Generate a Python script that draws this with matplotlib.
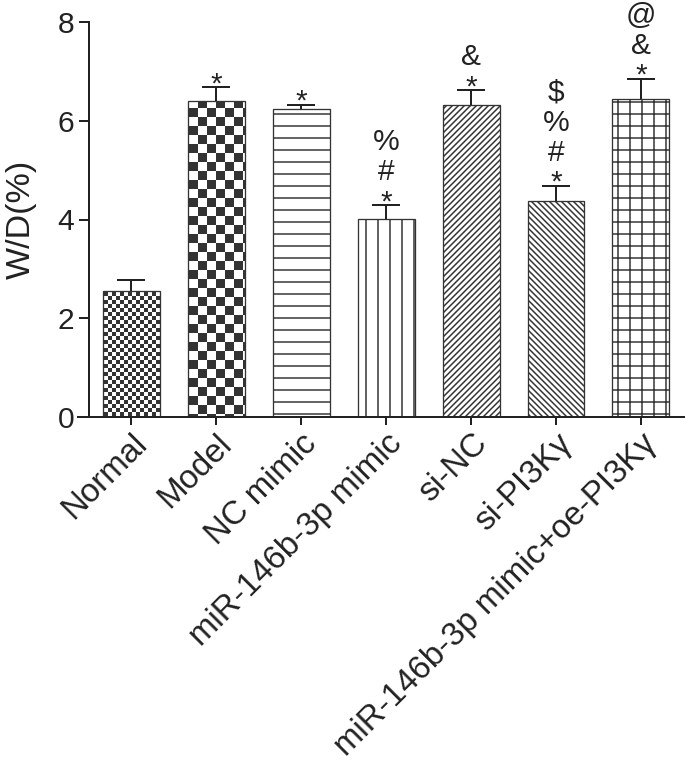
import warnings
import numpy as np
import matplotlib
matplotlib.use("Agg")
import matplotlib.pyplot as plt
import matplotlib.hatch as mhatch
from matplotlib.path import Path

warnings.filterwarnings("ignore")

groups = ["Normal", "Model", "NC mimic", "miR-146b-3p mimic", "si-NC",
          "si-PI3Kγ", "miR-146b-3p mimic+oe-PI3Kγ"]
wd_mean = [2.56, 6.40, 6.24, 4.02, 6.32, 4.38, 6.45]
wd_err = [0.21, 0.28, 0.08, 0.27, 0.30, 0.30, 0.40]
# significance marks, listed bottom to top
marks = [[], ["*"], ["*"], ["*", "#", "%"], ["*", "&"],
         ["*", "#", "%", "$"], ["*", "&", "@"]]
fills = ["f", "c", "-", "|", "////", "\\\\\\\\", "+"]

INK = "#222222"
HATCH_LW = 1.5


class CheckerHatch(mhatch.HatchPatternBase):
    """Filled checkerboard: 'c' = coarse, 'f' = fine."""

    def __init__(self, hatch, density):
        self.cells = 8 * hatch.count("c") + 18 * hatch.count("f")
        self.num_vertices = (self.cells ** 2 // 2) * 5

    def set_vertices_and_codes(self, vertices, codes):
        n = self.cells
        s = 1.0 / n
        pad = HATCH_LW / 2 / 72   # the hatch stroke widens every square
        sq = np.array([[pad, pad], [s - pad, pad], [s - pad, s - pad],
                       [pad, s - pad], [pad, pad]])
        parts = [sq + [i * s, j * s] for i in range(n) for j in range(n)
                 if (i + j) % 2 == 0]
        vertices[:] = np.concatenate(parts)
        codes[:] = np.tile([Path.MOVETO, Path.LINETO, Path.LINETO,
                            Path.LINETO, Path.CLOSEPOLY], len(parts))


mhatch._hatch_types.append(CheckerHatch)

plt.rcParams["font.family"] = ["Liberation Sans", "DejaVu Sans"]
plt.rcParams["hatch.linewidth"] = HATCH_LW

# dpi 72 -> 1 pt == 1 px and the hatch tile is 72 px
fig = plt.figure(figsize=(685 / 72, 766 / 72), dpi=72)
ax = fig.add_axes([78 / 685, 1 - 417 / 766, 1 - 78 / 685, 395 / 766])

x = np.arange(len(groups))
bars = ax.bar(x, wd_mean, width=0.67, color="white", edgecolor="#333333",
              linewidth=1.3, zorder=2)
for b, h in zip(bars, fills):
    b.set_hatch(h)

tops = np.array(wd_mean) + np.array(wd_err)
ax.vlines(x, wd_mean, tops, color=INK, linewidth=2, zorder=3)
ax.hlines(tops, x - 0.165, x + 0.165, color=INK, linewidth=2, zorder=3)

for i, stack in enumerate(marks):
    for k, sym in enumerate(stack):
        off = -5 if k == 0 else 25 + 30 * (k - 1)
        ax.annotate(sym, xy=(x[i], tops[i]), xytext=(0, off),
                    textcoords="offset points", ha="center", va="baseline",
                    fontsize=30, color=INK)

# x axis runs a little past the y axis, as in GraphPad
ax.set_xlim(-0.63, len(groups) - 0.48)
ax.spines["left"].set_position(("data", -0.5))
ax.set_ylim(0, 8)
ax.set_yticks([0, 2, 4, 6, 8])
ax.set_xticks(x)
ax.set_xticklabels(groups, rotation=45, ha="right", va="top",
                   rotation_mode="anchor", fontsize=33, color=INK)
ax.tick_params(axis="y", length=10, width=2, labelsize=30, pad=5,
               colors=INK)
ax.tick_params(axis="x", length=8, width=2, pad=3, colors=INK)
ax.set_ylabel("W/D(%)", fontsize=34, color=INK, labelpad=20)

for side in ["top", "right"]:
    ax.spines[side].set_visible(False)
for side in ["left", "bottom"]:
    ax.spines[side].set_linewidth(2)
    ax.spines[side].set_color(INK)

fig.savefig("out.png", dpi=72)
